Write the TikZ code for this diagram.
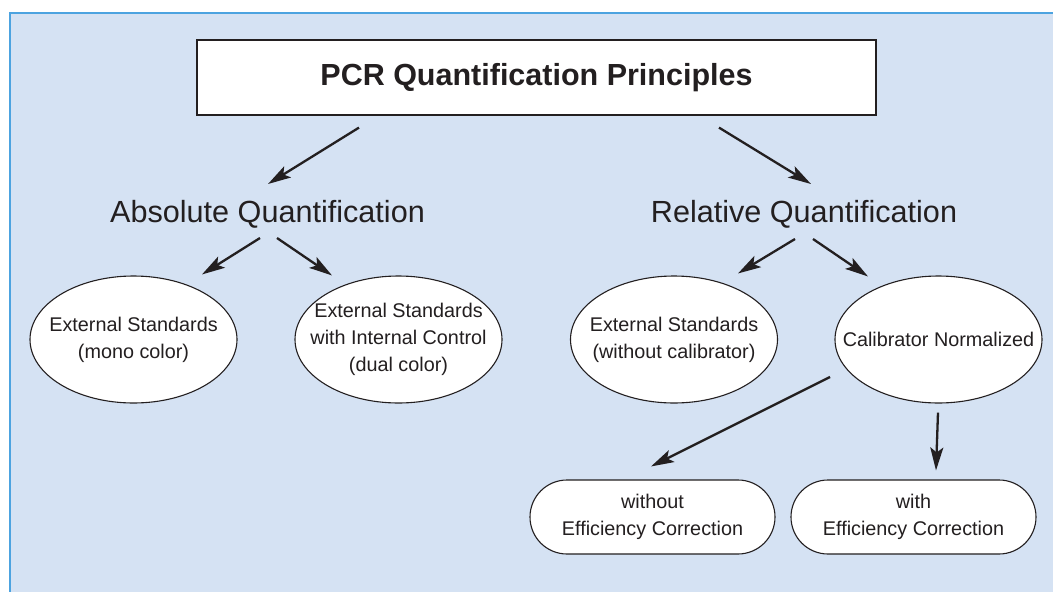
\documentclass[tikz,border=0pt]{standalone}
\usepackage{fontspec}
\setmainfont{Liberation Sans}
\usetikzlibrary{shapes.geometric,arrows.meta}

\definecolor{panelfill}{HTML}{D5E2F3}
\definecolor{panelline}{HTML}{4CA3E0}
\definecolor{inkgrey}{HTML}{231F20}

\tikzset{
  qarrow/.style={-{Stealth[length=23pt,width=13pt,inset=5pt]}, line width=2.3pt, draw=inkgrey, fill=inkgrey},
  titlebox/.style={draw=inkgrey, line width=1.2pt, fill=white, text=inkgrey,
    minimum width=679pt, minimum height=75pt, font=\fontsize{30.5}{36}\selectfont\bfseries},
  branchtext/.style={anchor=base, text=inkgrey, font=\fontsize{30.6}{36}\selectfont},
  methodellipse/.style={ellipse, draw=inkgrey, line width=1.1pt, fill=white,
    minimum width=207pt, minimum height=127pt, inner sep=0pt},
  methodtext/.style={align=center, text=inkgrey, font=\fontsize{19.8}{27}\selectfont},
  corrbox/.style={draw=inkgrey, line width=1.1pt, fill=white, rounded corners=37pt,
    minimum width=245pt, minimum height=74pt, methodtext}
}

\begin{document}
\begin{tikzpicture}[x=1pt, y=-1pt]
  \useasboundingbox (0,0) rectangle (1053,592);
  % light blue panel, edged on the left and at the top
  \fill[panelfill] (10,12.7) rectangle (1053,592);
  \draw[panelline, line width=2pt] (10,592) -- (10,12.7) -- (1053,12.7);

  \node[titlebox] (title) at (536.5,77.5) {PCR Quantification Principles};
  \node[branchtext] (absq) at (267.5,222) {Absolute Quantification};
  \node[branchtext] (relq) at (804,222) {Relative Quantification};

  % methods
  \node[methodellipse, label={[methodtext]center:External Standards\\(mono color)}] (e1) at (133.5,339.5) {};
  \node[methodellipse, label={[methodtext]center:External Standards\\with Internal Control\\(dual color)}] (e2) at (398.5,339.5) {};
  \node[methodellipse, label={[methodtext]center:External Standards\\(without calibrator)}] (e3) at (674,339.5) {};
  \node[methodellipse, label={[methodtext]center:Calibrator Normalized}] (e4) at (938.5,339.5) {};

  \node[corrbox] (b1) at (652.5,517) {without\\Efficiency Correction};
  \node[corrbox] (b2) at (913.5,517) {with\\Efficiency Correction};

  % arrows
  \draw[qarrow] ([shift={(-177.5,12)}]title.south) -- ([shift={(0.5,-38)}]absq.base);
  \draw[qarrow] ([shift={(182.5,12)}]title.south) -- ([shift={(7,-38)}]relq.base);
  \draw[qarrow] ([shift={(-7.5,16)}]absq.base) -- ([shift={(68.5,-1)}]e1.north);
  \draw[qarrow] ([shift={(9.5,16)}]absq.base) -- ([shift={(-66.5,0)}]e2.north);
  \draw[qarrow] ([shift={(-9,17)}]relq.base) -- ([shift={(64,-2)}]e3.north);
  \draw[qarrow] ([shift={(9,17)}]relq.base) -- ([shift={(-70.5,1)}]e4.north);
  \draw[qarrow] ([shift={(-108.5,37.5)}]e4.center) -- ([shift={(-1.5,-13)}]b1.north);
  \draw[qarrow] ([shift={(-0.5,9)}]e4.south) -- ([shift={(22.5,-9)}]b2.north);
\end{tikzpicture}
\end{document}
